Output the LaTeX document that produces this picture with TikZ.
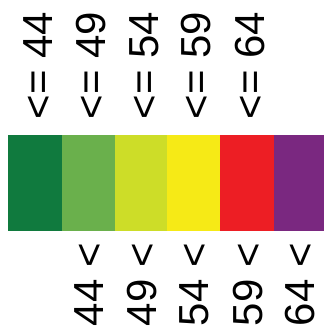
\documentclass[tikz,border=0pt]{standalone}
\usepackage{fontspec}
\newfontfamily\labfont{Liberation Sans}
\definecolor{cA}{HTML}{107A3E}
\definecolor{cB}{HTML}{6AB04C}
\definecolor{cC}{HTML}{CDDD28}
\definecolor{cD}{HTML}{F6EA16}
\definecolor{cE}{HTML}{ED1E24}
\definecolor{cF}{HTML}{7A2880}
\tikzset{
  lab/.style={font=\labfont\fontsize{42}{42}\selectfont, rotate=90, inner sep=0pt, text=black},
  toplab/.style={lab, anchor=base west},
  botlab/.style={lab, anchor=base east}
}
\begin{document}
\begin{tikzpicture}[x=1pt,y=1pt]
\useasboundingbox (0,0) rectangle (328,332);
\fill[white] (0,0) rectangle (328,332);
% colour bar
\fill[cA] (8,101) rectangle (62,197);
\fill[cB] (62,101) rectangle (114.5,197);
\fill[cC] (114.5,101) rectangle (167,197);
\fill[cD] (167,101) rectangle (220,197);
\fill[cE] (220,101) rectangle (274,197);
\fill[cF] (274,101) rectangle (324,197);
% top labels
\node[toplab] (t1) at (52,212.7) {<= 44};
\node[toplab] (t2) at (105,212.7) {<= 49};
\node[toplab] (t3) at (158,212.7) {<= 54};
\node[toplab] (t4) at (210.5,212.7) {<= 59};
\node[toplab] (t5) at (264,212.7) {<= 64};
% bottom labels
\node[botlab] (b1) at (103,89) {44 <};
\node[botlab] (b2) at (156,89) {49 <};
\node[botlab] (b3) at (208.5,89) {54 <};
\node[botlab] (b4) at (262,89) {59 <};
\node[botlab] (b5) at (314,89) {64 <};
\end{tikzpicture}
\end{document}
